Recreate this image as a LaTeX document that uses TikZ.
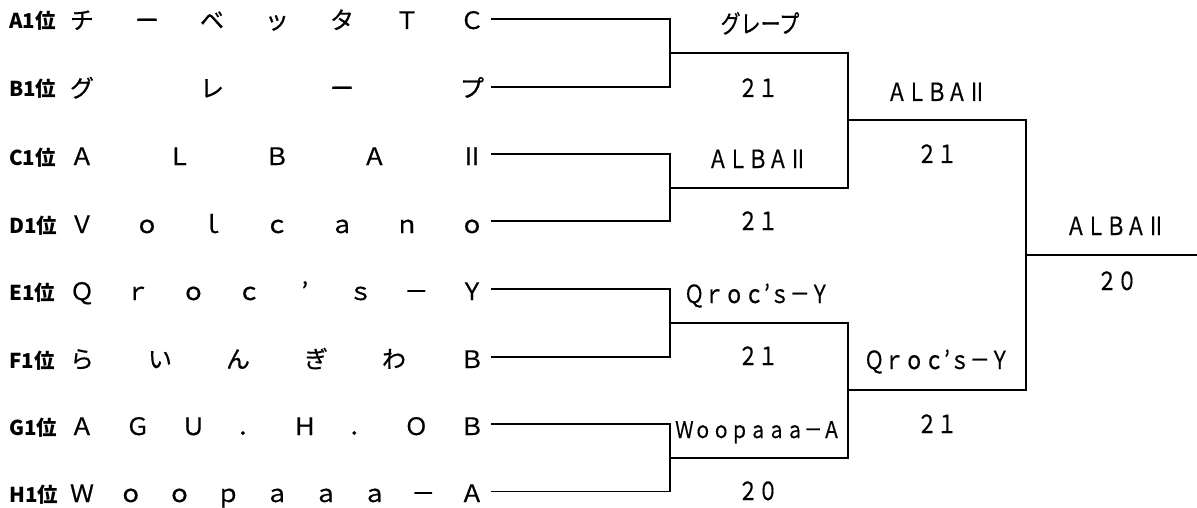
\documentclass[tikz,border=0pt]{standalone}
\usepackage{graphicx}
\usepackage{fontspec}
\newfontfamily\jp[FakeBold=0.6]{Noto Sans CJK JP}
\newfontfamily\jpb{Noto Sans CJK JP}
\newcommand\spreadrow[4]{%
  \foreach \ch [count=\i from 0] in {#4} {
    \node[namech] (n#1-\i) at ({82+\i*390/(#3-1)}, #2) {\ch};
  }}
\newcommand\narrow[1]{\scalebox{0.8}[1]{#1}}
\begin{document}
\begin{tikzpicture}[x=1pt,y=-1pt,
  br/.style={line width=1.8pt, line join=miter},
  namech/.style={font=\jp\fontsize{24}{24}\selectfont, anchor=base, inner sep=0pt},
  rank/.style={font=\jpb\bfseries\fontsize{20.5}{21}\selectfont, anchor=base west, inner sep=0pt},
  win/.style={font=\jp\fontsize{25}{25}\selectfont, anchor=base, inner sep=0pt},
  wins/.style={font=\jp\fontsize{23}{23}\selectfont, anchor=base, inner sep=0pt},
  score/.style={font=\jp\fontsize{25}{25}\selectfont, anchor=base, inner sep=0pt}]
\useasboundingbox (0,0) rectangle (1197,508);
% rank labels and names
\node[rank] (rA) at (9,29) {A1位};
\spreadrow{A}{29}{7}{チ,ー,ベ,ッ,タ,Ｔ,Ｃ}
\node[rank] (rB) at (9,97) {B1位};
\spreadrow{B}{97}{4}{グ,レ,ー,プ}
\node[rank] (rC) at (9,165) {C1位};
\spreadrow{C}{165}{5}{Ａ,Ｌ,Ｂ,Ａ,Ⅱ}
\node[rank] (rD) at (9,233) {D1位};
\spreadrow{D}{233}{7}{Ｖ,ｏ,ｌ,ｃ,ａ,ｎ,ｏ}
\node[rank] (rE) at (9,300) {E1位};
\spreadrow{E}{300}{8}{Ｑ,ｒ,ｏ,ｃ,’,ｓ,－,Ｙ}
\node[rank] (rF) at (9,368) {F1位};
\spreadrow{F}{368}{6}{ら,い,ん,ぎ,わ,Ｂ}
\node[rank] (rG) at (9,435) {G1位};
\spreadrow{G}{435}{8}{Ａ,Ｇ,Ｕ,．,Ｈ,．,Ｏ,Ｂ}
\node[rank] (rH) at (9,502) {H1位};
\spreadrow{H}{502}{9}{Ｗ,ｏ,ｏ,ｐ,ａ,ａ,ａ,－,Ａ}
% bracket coordinates
\coordinate (tA) at (491,19);
\coordinate (tB) at (491,86.7);
\coordinate (tC) at (491,154);
\coordinate (tD) at (491,221.3);
\coordinate (tE) at (491,289);
\coordinate (tF) at (491,356.7);
\coordinate (tG) at (491,424);
\coordinate (tH) at (491,491.5);
\coordinate (j1) at (670,52.8);
\coordinate (j2) at (670,187.7);
\coordinate (j3) at (670,322.8);
\coordinate (j4) at (670,457.8);
\coordinate (q1) at (848,120.3);
\coordinate (q2) at (848,390.3);
\coordinate (fin) at (1026,255.3);
\coordinate (end) at (1197,255.3);
% round 1
\draw[br] (tA) -| (j1) |- (tB);
\draw[br] (tC) -| (j2) |- (tD);
\draw[br] (tE) -| (j3) |- (tF);
\draw[br] (tG) -| (j4) |- (tH);
% round 2
\draw[br] (j1) -| (q1) |- (j2);
\draw[br] (j3) -| (q2) |- (j4);
% final
\draw[br] (q1) -| (fin) |- (q2);
\draw[br] (fin) -- (end);
% winners and scores
\node[win] (w1) at (760,33) {\narrow{グレープ}};
\node[score] (s1) at (758,97) {\narrow{２１}};
\node[win] (w2) at (758,168) {\narrow{ＡＬＢＡⅡ}};
\node[score] (s2) at (758,230) {\narrow{２１}};
\node[win] (w3) at (757,303) {\narrow{Ｑｒｏｃ’ｓ－Ｙ}};
\node[score] (s3) at (758,365) {\narrow{２１}};
\node[wins] (w4) at (758,438) {\narrow{Ｗｏｏｐａａａ－Ａ}};
\node[score] (s4) at (758,500) {\narrow{２０}};
\node[win] (w5) at (937,101) {\narrow{ＡＬＢＡⅡ}};
\node[score] (s5) at (937,163) {\narrow{２１}};
\node[win] (w6) at (937,369) {\narrow{Ｑｒｏｃ’ｓ－Ｙ}};
\node[score] (s6) at (937,433) {\narrow{２１}};
\node[win] (w7) at (1116,235) {\narrow{ＡＬＢＡⅡ}};
\node[score] (s7) at (1117,290) {\narrow{２０}};
\end{tikzpicture}
\end{document}
